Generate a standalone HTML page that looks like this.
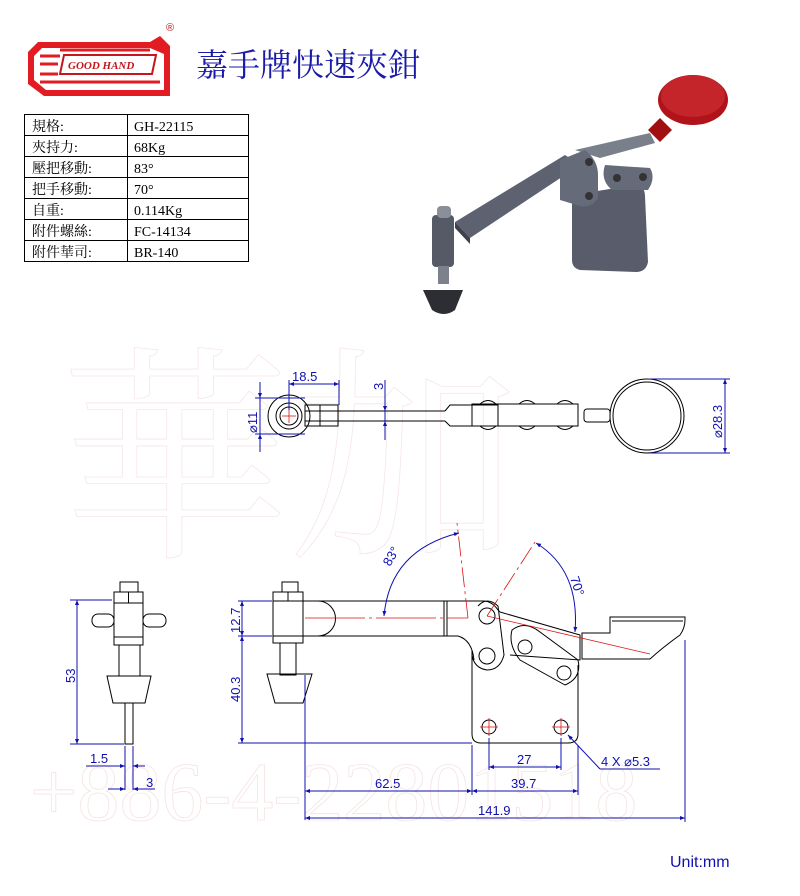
<!DOCTYPE html>
<html><head><meta charset="utf-8"><style>
body{margin:0;background:#fff;width:800px;height:891px;overflow:hidden;font-family:"Liberation Sans","Noto Sans CJK TC",sans-serif}
</style></head><body>
<svg width="800" height="891" viewBox="0 0 800 891" xmlns="http://www.w3.org/2000/svg" font-family="Liberation Sans, Noto Sans CJK TC, sans-serif">
<defs>
<marker id="a" viewBox="0 0 10 10" refX="10" refY="5" markerWidth="7" markerHeight="5" orient="auto-start-reverse" markerUnits="userSpaceOnUse"><path d="M0 1 L10 5 L0 9Z" fill="#1010b0"/></marker>
</defs>
<!-- watermark -->
<g opacity="0.55">
<text x="30" y="820" font-size="84" fill="none" stroke="#f0cccc" stroke-width="0.8" font-family="Liberation Serif, serif">+886-4-22801518</text>
<text x="60" y="540" font-size="230" fill="none" stroke="#f0d0d0" stroke-width="0.8" font-family="Noto Serif CJK SC, serif">華加</text>
</g>
<!-- logo -->
<g>
<path d="M38 42 L150 42 L160 36 L170 46 L170 96 L44 96 L28 84 L28 52 Z" fill="#e21c22"/>
<path d="M42 48 L150 48 L164 54 L164 90 L46 90 L34 80 L34 56 Z" fill="#fff"/>
<path d="M40 56 L60 56 M40 64 L58 64 M40 74 L58 74 M40 82 L160 82 M60 50 L150 50" stroke="#e21c22" stroke-width="3"/>
<path d="M64 55 L156 55 L152 74 L60 74 Z" fill="#fff" stroke="#c4161c" stroke-width="2"/>
<text x="68" y="69" font-size="11" font-style="italic" font-weight="bold" fill="#c4161c" font-family="Liberation Serif, serif">GOOD HAND</text>
<text x="166" y="31" font-size="11" fill="#c4161c">®</text>
</g>
<text x="196" y="76" font-size="32" fill="#1a1aa8" font-family="Liberation Serif, Noto Serif CJK SC, serif">嘉手牌快速夾鉗</text>
<!-- table -->
<g stroke="#000" stroke-width="1" fill="none">
<rect x="24.5" y="114.5" width="224" height="147"/>
<line x1="127.5" y1="114" x2="127.5" y2="261"/>
<line x1="24" y1="135.5" x2="248" y2="135.5"/><line x1="24" y1="156.5" x2="248" y2="156.5"/>
<line x1="24" y1="177.5" x2="248" y2="177.5"/><line x1="24" y1="198.5" x2="248" y2="198.5"/>
<line x1="24" y1="219.5" x2="248" y2="219.5"/><line x1="24" y1="240.5" x2="248" y2="240.5"/>
</g>
<g font-size="14" fill="#000" font-family="Liberation Serif, Noto Serif CJK TC, serif">
<text x="32" y="131">規格:</text><text x="134" y="131">GH-22115</text>
<text x="32" y="152">夾持力:</text><text x="134" y="152">68Kg</text>
<text x="32" y="173">壓把移動:</text><text x="134" y="173">83°</text>
<text x="32" y="194">把手移動:</text><text x="134" y="194">70°</text>
<text x="32" y="215">自重:</text><text x="134" y="215">0.114Kg</text>
<text x="32" y="236">附件螺絲:</text><text x="134" y="236">FC-14134</text>
<text x="32" y="257">附件華司:</text><text x="134" y="257">BR-140</text>
</g>
<!-- 3D render -->
<g>
<polygon points="455,222 565,155 580,165 470,238" fill="#5d6170"/>
<polygon points="455,222 470,238 470,244 455,228" fill="#3e414c"/>
<polygon points="575,150 650,133 655,143 600,158" fill="#7a7f8c"/>
<path d="M572 195 L635 185 Q645 186 645 196 L648 262 Q646 272 636 272 L580 270 Q572 268 572 260 Z" fill="#595d6b"/>
<path d="M560 160 L585 150 Q598 160 598 175 L598 198 Q592 208 580 206 L560 200 Z" fill="#666b79"/>
<path d="M605 165 L650 168 Q656 178 648 190 L612 190 Q600 180 605 165Z" fill="#666b79"/>
<circle cx="589" cy="162" r="4" fill="#333"/><circle cx="589" cy="196" r="4" fill="#333"/>
<circle cx="617" cy="178" r="4" fill="#333"/><circle cx="643" cy="177" r="4" fill="#333"/>
<polygon points="648,130 660,118 672,130 660,142" fill="#a01010"/>
<ellipse cx="693" cy="100" rx="35" ry="25" fill="#b0141a"/>
<ellipse cx="693" cy="96" rx="32" ry="21" fill="#c3252a"/>
<rect x="432" y="215" width="22" height="52" rx="4" fill="#555a66"/>
<rect x="437" y="206" width="14" height="12" rx="4" fill="#8a8f9a"/>
<rect x="438" y="266" width="11" height="18" fill="#7c818c"/>
<path d="M423 290 L463 290 L455 310 Q444 318 432 310 Z" fill="#2c2e34"/>
</g>
<!-- top view -->
<g stroke="#000" stroke-width="1" fill="none">
<circle cx="289" cy="416" r="21"/><circle cx="289" cy="416" r="13"/><circle cx="289" cy="416" r="9"/>
<rect x="305" y="405" width="33" height="21"/><line x1="320" y1="405" x2="320" y2="426"/>
<line x1="305" y1="411" x2="445" y2="411"/><line x1="305" y1="421" x2="445" y2="421"/>
<path d="M445 411 L450 405 L498 405 L498 426 L450 426 L445 421"/>
<rect x="472" y="404" width="106" height="22"/>
<path d="M480 404 Q488 397 496 404 M480 426 Q488 433 496 426 M519 404 Q527 397 535 404 M519 426 Q527 433 535 426 M557 404 Q565 397 573 404 M557 426 Q565 433 573 426"/>
<rect x="584" y="409" width="26" height="13" rx="3"/>
<circle cx="647" cy="416" r="37"/><circle cx="647" cy="416" r="34"/>
</g>
<g stroke="#e01010" stroke-width="0.8"><line x1="282" y1="416" x2="296" y2="416"/><line x1="289" y1="409" x2="289" y2="423"/></g>
<g stroke="#1010b0" stroke-width="1" fill="none">
<line x1="260" y1="382" x2="260" y2="452"/><line x1="255" y1="398" x2="305" y2="398"/><line x1="255" y1="434" x2="305" y2="434"/>
<line x1="260" y1="384" x2="260" y2="398" marker-end="url(#a)"/><line x1="260" y1="450" x2="260" y2="434" marker-end="url(#a)"/>
<line x1="289" y1="380" x2="289" y2="410"/><line x1="339" y1="380" x2="339" y2="405"/><line x1="289" y1="384" x2="339" y2="384" marker-start="url(#a)" marker-end="url(#a)"/>
<line x1="385" y1="380" x2="385" y2="440"/>
<line x1="385" y1="395" x2="385" y2="411" marker-end="url(#a)"/><line x1="385" y1="437" x2="385" y2="421" marker-end="url(#a)"/>
<line x1="650" y1="379" x2="730" y2="379"/><line x1="650" y1="453" x2="730" y2="453"/><line x1="725" y1="379" x2="725" y2="453" marker-start="url(#a)" marker-end="url(#a)"/>
</g>
<g fill="#1010b0" font-size="13">
<text x="292" y="381">18.5</text>
<text transform="translate(383 390) rotate(-90)">3</text>
<text transform="translate(257 433) rotate(-90)">⌀11</text>
<text transform="translate(722 438) rotate(-90)">⌀28.3</text>
</g>
<!-- side view -->
<g stroke="#000" stroke-width="1" fill="none">
<rect x="120" y="582" width="18" height="10"/>
<rect x="114" y="592" width="29" height="53"/><line x1="128.5" y1="592" x2="128.5" y2="603"/><line x1="114" y1="603" x2="143" y2="603"/>
<line x1="114" y1="637" x2="143" y2="637"/>
<rect x="92" y="614" width="22" height="13" rx="6"/><rect x="143" y="614" width="23" height="13" rx="6"/>
<rect x="119" y="645" width="21" height="31"/>
<path d="M107 676 L151 676 L145 703 L113 703 Z"/>
<rect x="125" y="703" width="8" height="41"/>
</g>
<g stroke="#1010b0" stroke-width="1" fill="none">
<line x1="70" y1="600" x2="112" y2="600"/><line x1="70" y1="744" x2="124" y2="744"/><line x1="77" y1="600" x2="77" y2="744" marker-start="url(#a)" marker-end="url(#a)"/>
<line x1="125" y1="746" x2="125" y2="790"/><line x1="133" y1="746" x2="133" y2="790"/>
<line x1="86" y1="766" x2="125" y2="766" marker-end="url(#a)"/><line x1="145" y1="766" x2="133" y2="766" marker-end="url(#a)"/>
<line x1="108" y1="789" x2="125" y2="789" marker-end="url(#a)"/><line x1="155" y1="789" x2="133" y2="789" marker-end="url(#a)"/>
</g>
<g fill="#1010b0" font-size="13">
<text transform="translate(75 683) rotate(-90)">53</text>
<text x="90" y="763">1.5</text><text x="146" y="787">3</text>
</g>
<!-- front view -->
<g stroke="#000" stroke-width="1" fill="none">
<rect x="282" y="582" width="16" height="10"/>
<rect x="273" y="592" width="30" height="9"/><line x1="288" y1="592" x2="288" y2="601"/>
<rect x="273" y="601" width="30" height="35"/>
<rect x="273" y="636" width="30" height="7"/>
<rect x="280" y="643" width="16" height="32"/>
<path d="M267 674 L312 674 L303 703 L275 703 Z"/>
<path d="M305 601 L318 601 A17 17 0 0 1 318 636 L305 636"/>
<path d="M303 601 L483 601 Q492 601 498 610 L500 612"/>
<path d="M303 636 L458 636 Q472 640 474 660"/>
<line x1="444" y1="601" x2="444" y2="636"/><line x1="447" y1="601" x2="447" y2="636"/>
<path d="M472 650 L472 734 Q472 743 481 743 L568 743 Q578 743 578 734 L578 665"/>
<path d="M478 606 Q487 596 498 606 L504 655 Q500 670 487 670 Q474 668 472 655"/>
<circle cx="487" cy="616" r="8"/><circle cx="487" cy="656" r="8"/>
<path d="M500 612 L580 635 L580 660 L510 655"/>
<path d="M512 630 Q525 620 540 632 L578 660 Q582 678 565 685 L520 660 Q508 645 512 630Z"/>
<circle cx="525" cy="647" r="7"/><circle cx="564" cy="673" r="7"/>
<path d="M582 633 L582 659 L650 659 Q662 648 680 635 Q685 628 685 620 L685 617 L610 617 L610 633 Z"/>
<line x1="612" y1="621" x2="683" y2="621"/>
<circle cx="489" cy="727" r="7"/><circle cx="561" cy="727" r="7"/>
</g>
<g stroke="#e01010" stroke-width="0.8" fill="none">
<line x1="305" y1="618" x2="468" y2="618" stroke-dasharray="60 4 3 4"/>
<line x1="468" y1="618" x2="457" y2="523" stroke-dasharray="20 4 3 4"/>
<line x1="487" y1="616" x2="535" y2="542" stroke-dasharray="20 4 3 4"/>
<line x1="487" y1="616" x2="650" y2="654"/>
<line x1="480" y1="727" x2="498" y2="727"/><line x1="489" y1="718" x2="489" y2="736"/>
<line x1="552" y1="727" x2="570" y2="727"/><line x1="561" y1="718" x2="561" y2="736"/>
</g>
<g stroke="#1010b0" stroke-width="1" fill="none">
<path d="M384 616 Q390 550 459 533" marker-start="url(#a)" marker-end="url(#a)"/>
<path d="M536 543 Q580 570 575 632" marker-start="url(#a)" marker-end="url(#a)"/>
<line x1="238" y1="601" x2="272" y2="601"/><line x1="238" y1="636" x2="272" y2="636"/><line x1="238" y1="743" x2="472" y2="743"/>
<line x1="242" y1="601" x2="242" y2="636" marker-start="url(#a)" marker-end="url(#a)"/>
<line x1="242" y1="636" x2="242" y2="743" marker-start="url(#a)" marker-end="url(#a)"/>
<line x1="305" y1="675" x2="305" y2="820"/><line x1="472" y1="745" x2="472" y2="795"/><line x1="578" y1="745" x2="578" y2="795"/>
<line x1="489" y1="738" x2="489" y2="770"/><line x1="561" y1="738" x2="561" y2="770"/><line x1="685" y1="640" x2="685" y2="822"/>
<line x1="489" y1="767" x2="561" y2="767" marker-start="url(#a)" marker-end="url(#a)"/>
<line x1="305" y1="791" x2="472" y2="791" marker-start="url(#a)" marker-end="url(#a)"/>
<line x1="472" y1="791" x2="578" y2="791" marker-start="url(#a)" marker-end="url(#a)"/>
<line x1="305" y1="818" x2="685" y2="818" marker-start="url(#a)" marker-end="url(#a)"/>
<line x1="600" y1="769" x2="568" y2="735" marker-end="url(#a)"/><line x1="600" y1="769" x2="660" y2="769"/>
</g>
<g fill="#1010b0" font-size="13">
<text transform="translate(240 633) rotate(-90)">12.7</text>
<text transform="translate(240 702) rotate(-90)">40.3</text>
<text x="517" y="764">27</text><text x="375" y="788">62.5</text><text x="511" y="788">39.7</text>
<text x="478" y="815">141.9</text><text x="601" y="766">4 X ⌀5.3</text>
<text transform="translate(390 567) rotate(-60)">83°</text>
<text transform="translate(570 578) rotate(72)">70°</text>
</g>
<text x="670" y="867" font-size="16" fill="#1010b0">Unit:mm</text>
</svg>
</body></html>
